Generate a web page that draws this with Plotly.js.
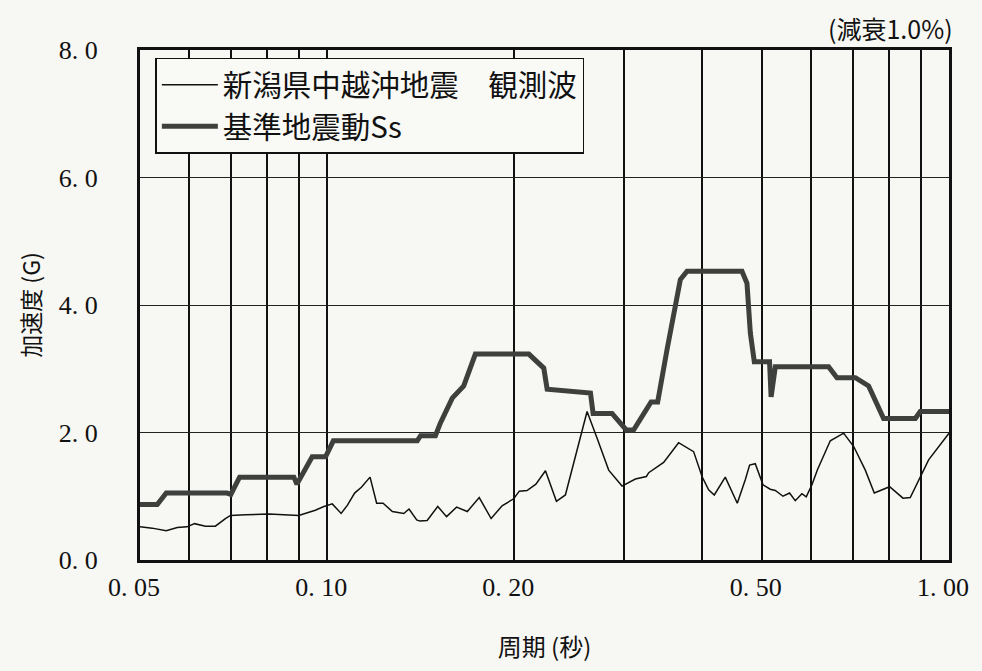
<!DOCTYPE html>
<html>
<head>
<meta charset="utf-8">
<script src="https://cdn.plot.ly/plotly-3.0.1.min.js"></script>
<style>html,body{margin:0;padding:0;background:#f7f7f3;}#chart{width:982px;height:671px;}</style>
</head>
<body>
<div id="chart"></div>
<script>
// Observed wave (新潟県中越沖地震 観測波)
var obsPeriod = [0.0500,0.0523,0.0551,0.0574,0.0595,0.0612,0.0637,0.0661,0.0686,0.0699,0.0739,0.0806,0.0900,0.0957,0.0988,0.1019,0.1053,0.1078,0.1107,0.1135,0.1172,0.1201,0.1230,0.1273,0.1328,0.1354,0.1393,0.1409,0.1448,0.1506,0.1556,0.1615,0.1680,0.1756,0.1835,0.1911,0.1995,0.2037,0.2096,0.2166,0.2244,0.2337,0.2416,0.2618,0.2717,0.2836,0.2980,0.3130,0.3261,0.3289,0.3476,0.3674,0.3884,0.4007,0.4106,0.4193,0.4367,0.4566,0.4703,0.4779,0.4880,0.5022,0.5158,0.5256,0.5408,0.5541,0.5659,0.5800,0.5894,0.6020,0.6146,0.6443,0.6769,0.7027,0.7335,0.7583,0.8026,0.8433,0.8664,0.8990,0.9273,1.0000];
var obsAccel = [0.52,0.50,0.46,0.51,0.52,0.57,0.53,0.53,0.65,0.70,0.71,0.72,0.70,0.78,0.84,0.88,0.73,0.86,1.05,1.14,1.30,0.89,0.89,0.76,0.73,0.80,0.63,0.61,0.62,0.84,0.68,0.83,0.76,0.98,0.65,0.85,0.96,1.08,1.09,1.19,1.40,0.92,1.02,2.33,1.91,1.41,1.16,1.27,1.31,1.37,1.53,1.84,1.70,1.31,1.10,1.02,1.30,0.89,1.26,1.49,1.51,1.18,1.11,1.09,1.00,1.05,0.93,1.04,0.99,1.18,1.42,1.87,1.99,1.78,1.41,1.05,1.15,0.97,0.98,1.31,1.57,1.99];

// 基準地震動Ss
var ssPeriod = [0.0500,0.0533,0.0551,0.0690,0.0700,0.0723,0.0884,0.0894,0.0946,0.0994,0.1023,0.1396,0.1413,0.1493,0.1521,0.1589,0.1658,0.1731,0.2110,0.2230,0.2258,0.2651,0.2677,0.2871,0.3027,0.3110,0.3318,0.3400,0.3520,0.3698,0.3791,0.4646,0.4733,0.4792,0.4863,0.5145,0.5175,0.5256,0.6403,0.6604,0.7070,0.7425,0.7849,0.8827,0.8990,1.0000];
var ssAccel = [0.87,0.87,1.05,1.05,1.03,1.30,1.30,1.19,1.62,1.62,1.87,1.87,1.95,1.95,2.15,2.54,2.73,3.23,3.23,3.01,2.68,2.62,2.30,2.30,2.04,2.04,2.48,2.48,3.30,4.40,4.53,4.53,4.34,3.56,3.11,3.11,2.56,3.03,3.03,2.86,2.86,2.73,2.22,2.22,2.33,2.33];

var xTickVals = [0.05,0.06,0.07,0.08,0.09,0.1,0.2,0.3,0.4,0.5,0.6,0.7,0.8,0.9,1.0];
var xTickText = ["0. 05","","","","","0. 10","0. 20","","","0. 50","","","","","1. 00"];
var yTickVals = [0,2,4,6,8];
var yTickText = ["0. 0","2. 0","4. 0","6. 0","8. 0"];

var nameObs = "新潟県中越沖地震　観測波";
var nameSs = "基準地震動Ss";
var xTitle = "周期 (秒)";
var yTitle = "加速度 (G)";
var noteText = "(減衰1.0%)";

var serif = "Liberation Serif, serif";
var cjk = "Noto Sans CJK JP, sans-serif";

var traces = [
  {x: obsPeriod, y: obsAccel, type: "scatter", mode: "lines", name: nameObs,
   line: {color: "#111111", width: 1.5}},
  {x: ssPeriod, y: ssAccel, type: "scatter", mode: "lines", name: nameSs,
   line: {color: "#3e403e", width: 5}}
];

var layout = {
  width: 982, height: 671,
  margin: {l: 140, r: 33, t: 50, b: 111},
  paper_bgcolor: "#f7f7f3", plot_bgcolor: "#f7f7f3",
  showlegend: true,
  legend: {x: 0.019, y: 0.985, xanchor: "left", yanchor: "top",
    bgcolor: "#f9f9f6", bordercolor: "#111", borderwidth: 1.5,
    font: {family: cjk, size: 29.5, color: "#111"}, itemwidth: 56, tracegroupgap: 0},
  xaxis: {type: "log", range: [Math.log10(0.05), 0], tickmode: "array",
    tickvals: xTickVals, ticktext: xTickText, showgrid: true, gridcolor: "#111", gridwidth: 2,
    showline: true, mirror: true, linecolor: "#111", linewidth: 3,
    ticks: "outside", ticklen: 2, tickcolor: "rgba(0,0,0,0)", ticklabelshift: -6,
    tickfont: {family: serif, size: 26, color: "#111"}, zeroline: false,
    title: {text: xTitle, font: {family: cjk, size: 24, color: "#111"}, standoff: 38}},
  yaxis: {range: [0, 8], tickmode: "array", tickvals: yTickVals, ticktext: yTickText,
    showgrid: true, gridcolor: "#222", gridwidth: 1,
    showline: true, mirror: true, linecolor: "#111", linewidth: 3,
    ticks: "outside", ticklen: 34, tickcolor: "rgba(0,0,0,0)",
    tickfont: {family: serif, size: 26, color: "#111"}, zeroline: false,
    title: {text: yTitle, font: {family: cjk, size: 23, color: "#111"}, standoff: 12}},
  annotations: [{text: noteText, xref: "paper", yref: "paper", x: 1.008, y: 1.044,
    xanchor: "right", yanchor: "middle", showarrow: false,
    font: {family: cjk, size: 25, color: "#111"}}]
};

Plotly.newPlot("chart", traces, layout, {displayModeBar: false, staticPlot: true});
</script>
</body>
</html>
